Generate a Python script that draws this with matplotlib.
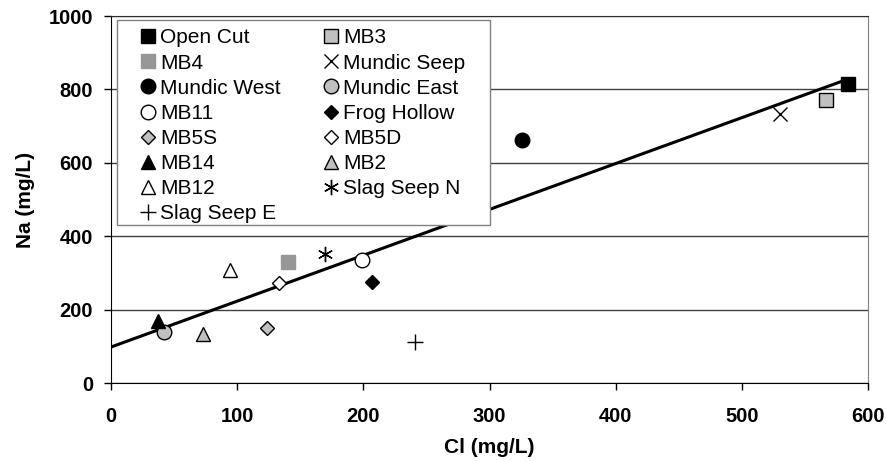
import matplotlib
matplotlib.use("Agg")
import matplotlib.pyplot as plt
from matplotlib.patches import Rectangle

plt.rcParams['font.family'] = ['Liberation Sans', 'DejaVu Sans']

# sample sites, in legend order (row by row)
sites = ["Open Cut", "MB3", "MB4", "Mundic Seep", "Mundic West", "Mundic East",
         "MB11", "Frog Hollow", "MB5S", "MB5D", "MB14", "MB2", "MB12",
         "Slag Seep N", "Slag Seep E"]
cl = [584, 567, 140, 530, 326, 42, 199, 207, 124, 133, 37, 73, 94, 170, 241]
na = [815, 771, 330, 732, 662, 138, 335, 276, 151, 273, 170, 133, 307, 352, 112]

# trend line
trend_x = [0, 584]
trend_y = [98, 828]

GREY = "#c0c0c0"
styles = {
    "Open Cut":    dict(marker="s", mfc="black", mec="black", ms=10),
    "MB3":         dict(marker="s", mfc=GREY, mec="black", ms=10),
    "MB4":         dict(marker="s", mfc="#969696", mec="#969696", ms=10),
    "Mundic Seep": dict(marker="x", mfc="none", mec="black", ms=10, mew=1),
    "Mundic West": dict(marker="o", mfc="black", mec="black", ms=10.5),
    "Mundic East": dict(marker="o", mfc=GREY, mec="black", ms=10.5),
    "MB11":        dict(marker="o", mfc="white", mec="black", ms=10.5),
    "Frog Hollow": dict(marker="D", mfc="black", mec="black", ms=7.5),
    "MB5S":        dict(marker="D", mfc=GREY, mec="black", ms=7.5),
    "MB5D":        dict(marker="D", mfc="white", mec="black", ms=7.5),
    "MB14":        dict(marker="^", mfc="black", mec="black", ms=10),
    "MB2":         dict(marker="^", mfc=GREY, mec="black", ms=10),
    "MB12":        dict(marker="^", mfc="white", mec="black", ms=10),
    "Slag Seep N": dict(marker=(6, 2, 0), mfc="none", mec="black", ms=11, mew=1),
    "Slag Seep E": dict(marker="+", mfc="none", mec="black", ms=11, mew=1),
}

fig = plt.figure(figsize=(8.86, 4.61), dpi=100)
ax = fig.add_axes([111 / 886, 78 / 461, 757 / 886, 367 / 461])

ax.plot(trend_x, trend_y, color="black", lw=2.2, zorder=2)

handles = []
for name, x, y in zip(sites, cl, na):
    st = styles[name]
    h, = ax.plot([x], [y], ls="none", marker=st["marker"], markerfacecolor=st["mfc"],
                 markeredgecolor=st["mec"], markersize=st["ms"],
                 markeredgewidth=st.get("mew", 1), label=name, zorder=3)
    handles.append(h)

ax.set_xlim(0, 600)
ax.set_ylim(0, 1000)
ax.set_xticks(range(0, 601, 100))
ax.set_yticks(range(0, 1001, 200))
ax.yaxis.grid(True, color="#404040", lw=1)
ax.set_axisbelow(True)

ax.tick_params(labelsize=14.5, direction="out", length=5, width=1, color="black")
ax.tick_params(axis="x", pad=12)
ax.tick_params(axis="y", pad=8)
for lab in ax.get_xticklabels() + ax.get_yticklabels():
    lab.set_fontweight("bold")
ax.set_xlabel("Cl (mg/L)", fontsize=15, fontweight="bold", labelpad=9)
ax.set_ylabel("Na (mg/L)", fontsize=15, fontweight="bold", labelpad=10)

ax.spines["top"].set_color("#303030")
ax.spines["right"].set_color("#808080")
ax.spines["left"].set_color("black")
ax.spines["bottom"].set_color("black")

# legend box drawn separately so the padding can differ left vs top
ax.add_patch(Rectangle((0.0079, 0.4305), 0.4928, 0.5585, transform=ax.transAxes,
                       facecolor="white", edgecolor="#808080", lw=1, zorder=4))

# legend: matplotlib fills columns first, so reorder
order = list(range(0, len(handles), 2)) + list(range(1, len(handles), 2))
leg = ax.legend([handles[i] for i in order], [sites[i] for i in order],
                ncol=2, loc="upper left", bbox_to_anchor=(0.022, 0.989),
                fontsize=15, frameon=False, markerscale=1.0,
                handlelength=1.15, handletextpad=0.0,
                labelspacing=0.295, columnspacing=1.85, borderpad=0.4,
                borderaxespad=0)
leg.set_zorder(5)

fig.savefig("out.png", dpi=100)
